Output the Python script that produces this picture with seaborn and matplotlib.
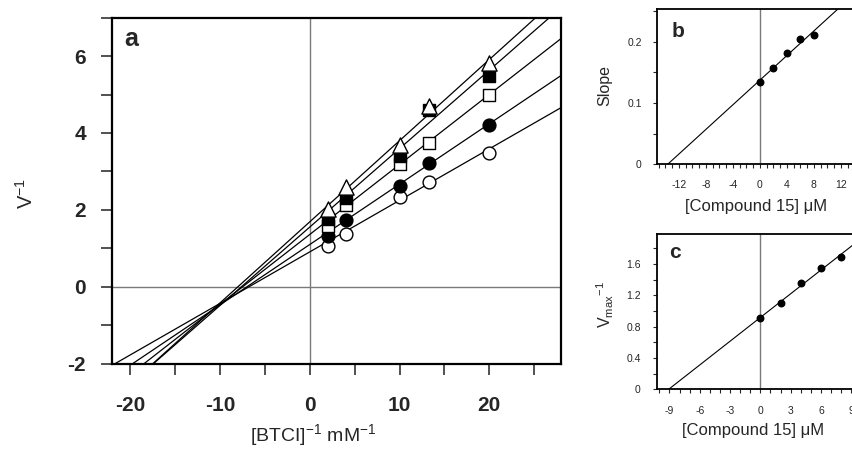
import matplotlib
matplotlib.use("Agg")
import matplotlib.pyplot as plt
from matplotlib.ticker import MultipleLocator, FixedLocator, FixedFormatter
import seaborn as sns
import pandas as pd

# ---------------- data ----------------
# panel a : Lineweaver-Burk, x = [BTCI]^-1 (mM^-1)
inv_s = [2, 4, 10, 13.33, 20]
v_inv_0 = [1.05, 1.38, 2.33, 2.73, 3.47]   # open circles   (0 uM)
v_inv_2 = [1.33, 1.74, 2.61, 3.22, 4.21]   # filled circles (2 uM)
v_inv_4 = [1.57, 2.12, 3.18, 3.75, 4.99]   # open squares   (4 uM)
v_inv_6 = [1.77, 2.32, 3.40, 4.60, 5.49]   # filled squares (6 uM)
v_inv_8 = [2.02, 2.60, 3.69, 4.71, 5.82]   # open triangles (8 uM)

# panels b, c : secondary plots (slope and 1/Vmax of each line in panel a)
conc = [0, 2, 4, 6, 8]
slopes = [0.134, 0.157, 0.182, 0.204, 0.211]
inv_vmax = [0.906, 1.098, 1.36, 1.553, 1.689]

a_xticks = [-20, -10, 0, 10, 20]
a_yticks = [-2, 0, 2, 4, 6]
b_xticks = [-12, -8, -4, 0, 4, 8, 12]
b_yticks = [0, 0.1, 0.2]
b_ylabels = ["0", "0.1", "0.2"]
c_xticks = [-9, -6, -3, 0, 3, 6, 9]
c_yticks = [0, 0.4, 0.8, 1.2, 1.6]
c_ylabels = ["0", "0.4", "0.8", "1.2", "1.6"]

# ---------------- style ----------------
sns.set_style("ticks")
plt.rcParams["font.family"] = ["Liberation Sans", "DejaVu Sans"]
plt.rcParams["mathtext.default"] = "regular"
plt.rcParams["axes.unicode_minus"] = False

W, H = 853, 454
fig = plt.figure(figsize=(W / 100, H / 100), dpi=100)


def fx(px):
    return px / W


def fy(py):
    return (H - py) / H


def style_axes(ax, lw=1.5):
    for s in ax.spines.values():
        s.set_visible(True)
        s.set_color("black")
        s.set_linewidth(lw)


# ---------------- panel a ----------------
ax = fig.add_axes([fx(112.5), fy(363.5), (561 - 112.5) / W, (363.5 - 17.7) / H])
ax.set_xlim(-22, 28)
ax.set_ylim(-2, 7)
ax.axhline(0, color="#7a7a7a", lw=1.0, zorder=0)
ax.axvline(0, color="#7a7a7a", lw=1.0, zorder=0)

series = [
    (v_inv_0, "o", "white", 85),
    (v_inv_2, "o", "black", 85),
    (v_inv_4, "s", "white", 80),
    (v_inv_6, "s", "black", 80),
    (v_inv_8, "^", "white", 120),
]
for i, (vals, m, fc, s) in enumerate(series):
    ax.axline((0, inv_vmax[i]), slope=slopes[i], color="black", lw=0.9, zorder=2)
    df = pd.DataFrame({"x": inv_s, "y": vals})
    sns.scatterplot(data=df, x="x", y="y", ax=ax, marker=m, s=s, color=fc,
                    edgecolor="black", linewidth=1.0, zorder=3 + i, legend=False)
ax.set_xlim(-22, 28)
ax.set_ylim(-2, 7)
ax.xaxis.set_major_locator(FixedLocator(a_xticks))
ax.xaxis.set_minor_locator(MultipleLocator(5))
ax.yaxis.set_major_locator(FixedLocator(a_yticks))
ax.yaxis.set_minor_locator(MultipleLocator(1))
ax.tick_params(which="both", direction="out", length=8, width=1.2,
               color="#333333", top=False, right=False)
ax.tick_params(axis="x", which="major", pad=15.5)
ax.tick_params(axis="y", which="major", pad=11)
for lab in ax.get_xticklabels() + ax.get_yticklabels():
    lab.set_fontsize(15)
    lab.set_fontweight("bold")
style_axes(ax, 1.6)
ax.set_xlabel("[BTCI]$^{-1}$ mM$^{-1}$", fontsize=14)
ax.xaxis.set_label_coords(fx(313), fy(435), transform=fig.transFigure)
ax.xaxis.label.set_va("center")
ax.set_ylabel("V$^{-1}$", fontsize=14.5)
ax.yaxis.set_label_coords(fx(26), fy(193), transform=fig.transFigure)
ax.yaxis.label.set_va("center")
fig.text(fx(124), fy(46), "a", fontsize=18, fontweight="bold",
         ha="left", va="baseline")

# ---------------- panel b ----------------
axb = fig.add_axes([fx(657), fy(164.3), 31.25 * 6.75 / W, 155 / H])
axb.set_xlim(-15.25, 16)
axb.set_ylim(0, 0.253)
axb.axvline(0, color="#7a7a7a", lw=1.0, zorder=0)
sns.regplot(x=conc, y=slopes, ax=axb, ci=None, truncate=False, color="black",
            scatter_kws={"s": 22, "zorder": 3, "alpha": 1},
            line_kws={"lw": 0.8, "color": "black"})
axb.set_xlim(-15.25, 16)
axb.set_ylim(0, 0.253)
axb.xaxis.set_major_locator(FixedLocator(b_xticks))
axb.xaxis.set_minor_locator(MultipleLocator(1))
axb.yaxis.set_major_locator(FixedLocator(b_yticks))
axb.yaxis.set_major_formatter(FixedFormatter(b_ylabels))
axb.yaxis.set_minor_locator(MultipleLocator(0.05))
axb.tick_params(which="both", direction="out", length=3, width=0.8,
                labelsize=7.5, top=False, right=False, pad=8)
style_axes(axb, 1.3)
axb.set_xlabel("[Compound 15] \u03bcM", fontsize=12)
axb.xaxis.set_label_coords(fx(756), fy(207), transform=fig.transFigure)
axb.xaxis.label.set_va("center")
axb.set_ylabel("Slope", fontsize=11.5)
axb.yaxis.set_label_coords(fx(605), fy(86), transform=fig.transFigure)
axb.yaxis.label.set_va("center")
fig.text(fx(672), fy(37), "b", fontsize=15, fontweight="bold",
         ha="left", va="baseline")

# ---------------- panel c ----------------
axc = fig.add_axes([fx(657.3), fy(389.3), 22.2 * 10.1 / W, 155 / H])
axc.set_xlim(-10.2, 12)
axc.set_ylim(0, 1.98)
axc.axvline(0, color="#7a7a7a", lw=1.0, zorder=0)
sns.regplot(x=conc, y=inv_vmax, ax=axc, ci=None, truncate=False, color="black",
            scatter_kws={"s": 22, "zorder": 3, "alpha": 1},
            line_kws={"lw": 0.8, "color": "black"})
axc.set_xlim(-10.2, 12)
axc.set_ylim(0, 1.98)
axc.xaxis.set_major_locator(FixedLocator(c_xticks))
axc.xaxis.set_minor_locator(MultipleLocator(1))
axc.yaxis.set_major_locator(FixedLocator(c_yticks))
axc.yaxis.set_major_formatter(FixedFormatter(c_ylabels))
axc.yaxis.set_minor_locator(MultipleLocator(0.2))
axc.tick_params(which="both", direction="out", length=3, width=0.8,
                labelsize=7.5, top=False, right=False, pad=9)
style_axes(axc, 1.3)
axc.set_xlabel("[Compound 15] \u03bcM", fontsize=12)
axc.xaxis.set_label_coords(fx(753), fy(430.5), transform=fig.transFigure)
axc.xaxis.label.set_va("center")
axc.set_ylabel("V$_{max}{}^{-1}$", fontsize=11.5)
axc.yaxis.set_label_coords(fx(605), fy(305), transform=fig.transFigure)
axc.yaxis.label.set_va("center")
fig.text(fx(669), fy(258), "c", fontsize=15, fontweight="bold",
         ha="left", va="baseline")

fig.savefig("out.png", dpi=100)
